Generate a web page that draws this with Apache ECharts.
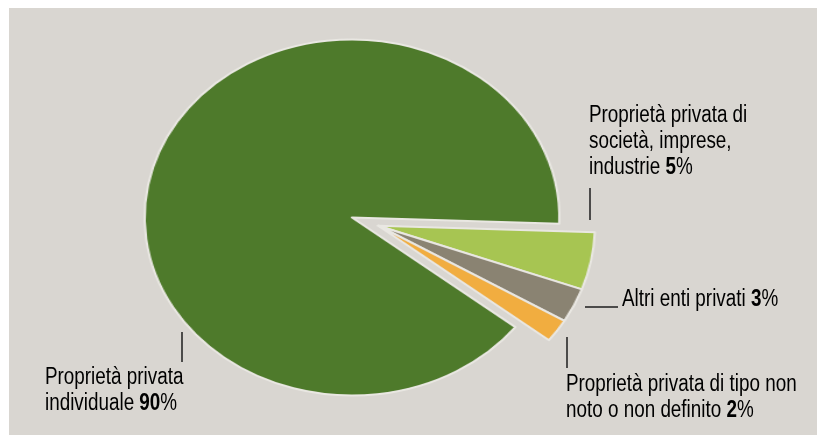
<!DOCTYPE html>
<html>
<head>
<meta charset="utf-8">
<script src="https://cdn.jsdelivr.net/npm/echarts@6/dist/echarts.min.js"></script>
<style>
  body { margin: 0; background: #ffffff; }
  #bg { position: absolute; left: 9px; top: 8px; width: 808px; height: 427px; background: #d9d6d1; }
  /* the pie in the picture is an ellipse, so stretch the pie canvas sideways */
  #pie { position: absolute; left: 0; top: 0; width: 817px; height: 435px; transform: scaleX(1.165); transform-origin: 352px 0; }
  #labels { position: absolute; left: 0; top: 0; width: 817px; height: 435px; }
</style>
</head>
<body>
<div id="bg"></div>
<div id="pie"></div>
<div id="labels"></div>
<script>
const categories = [
  "Proprietà privata di\nsocietà, imprese,\nindustrie",
  "Altri enti privati",
  "Proprietà privata di tipo non\nnoto o non definito",
  "Proprietà privata\nindividuale",
];
const values = [5, 3, 2, 90];
const colors = ["#a7c552", "#8a8372", "#f1ad40", "#4e7a2b"];
const exploded = [true, true, true, false];

const FONT = "'Liberation Sans', Arial, sans-serif";
const NARROW = 0.82; // condensed look of the original type
const BORDER = "#e9e7e2";
const CENTER = [352, 217.5];

const pieChart = echarts.init(document.getElementById("pie"));
const labelChart = echarts.init(document.getElementById("labels"));

const sliceData = (showExploded) =>
  categories.map((name, i) => {
    const visible = exploded[i] === showExploded;
    return {
      name: name,
      value: values[i],
      itemStyle: visible
        ? { color: colors[i], borderColor: BORDER, borderWidth: 2 }
        : { color: "rgba(0,0,0,0)", borderWidth: 0 },
    };
  });

const baseSeries = {
  type: "pie",
  startAngle: -2,
  clockwise: true,
  silent: true,
  label: { show: false },
  labelLine: { show: false },
  emphasis: { disabled: true },
};

pieChart.setOption({
  animation: false,
  series: [
    {
      ...baseSeries,
      center: CENTER,
      radius: 178,
      data: sliceData(false),
    },
    {
      // small slices pulled out along their bisector
      ...baseSeries,
      center: [CENTER[0] + 22.5, CENTER[1] + 8.2],
      radius: 186,
      data: sliceData(true),
    },
  ],
});

// label placement: [x, y of first line top]
const labelPos = [
  [589, 103],
  [622, 287],
  [566, 372],
  [45, 365],
];
const ticks = [
  [590, 188, 590, 220],
  [585, 307, 618, 307],
  [567, 337, 567, 368],
  [182, 332, 182, 362],
];

const labelText = (i) => {
  const lines = categories[i].split("\n");
  const last = lines.pop();
  return lines.map((l) => "{t|" + l + "}").concat(["{t|" + last + " }{v|" + values[i] + "}{t|%}"]).join("\n");
};

const rich = {
  t: { fontFamily: FONT, fontSize: 23, color: "#1c1c1c", lineHeight: 26 },
  v: { fontFamily: FONT, fontSize: 23, fontWeight: "bold", color: "#4f8a2c", lineHeight: 26 },
};

const graphics = [];
categories.forEach((c, i) => {
  graphics.push({
    type: "text",
    x: labelPos[i][0],
    y: labelPos[i][1],
    scaleX: NARROW,
    style: {
      text: labelText(i),
      rich: rich,
      align: "left",
      verticalAlign: "top",
    },
  });
  graphics.push({
    type: "line",
    shape: { x1: ticks[i][0], y1: ticks[i][1], x2: ticks[i][2], y2: ticks[i][3] },
    style: { stroke: "#1c1c1c", lineWidth: 1.5 },
  });
});

labelChart.setOption({
  animation: false,
  graphic: graphics,
});
</script>
</body>
</html>
